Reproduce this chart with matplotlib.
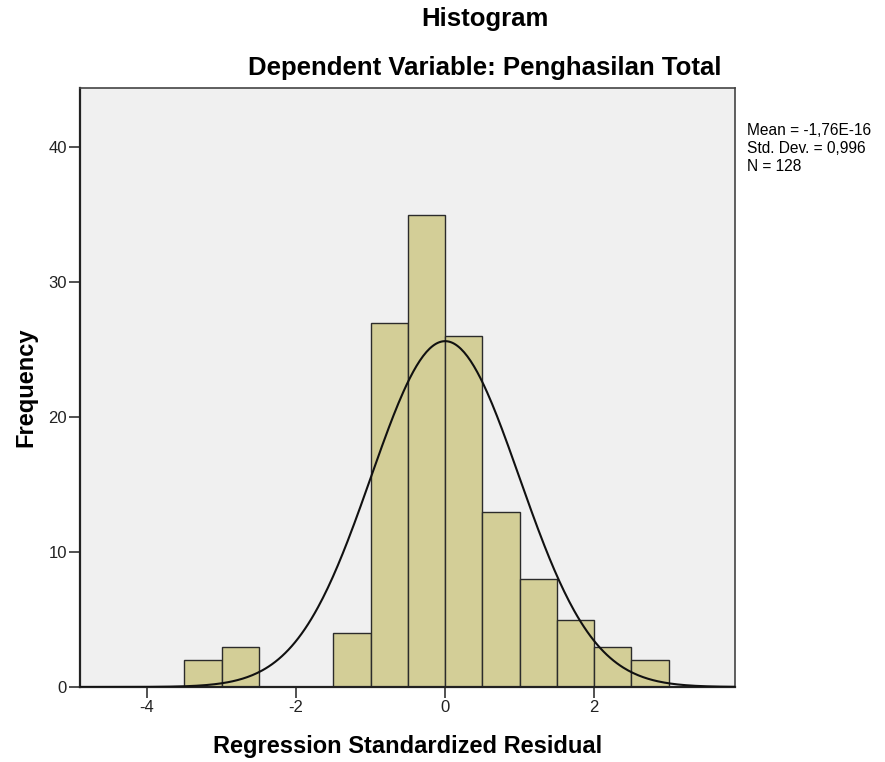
import numpy as np
import matplotlib.pyplot as plt

plt.rcParams['font.family'] = ['Liberation Sans', 'DejaVu Sans']
plt.rcParams['axes.unicode_minus'] = False

# histogram of regression standardized residuals
bin_edges = [-3.5, -3.0, -2.5, -2.0, -1.5, -1.0, -0.5, 0.0, 0.5, 1.0, 1.5, 2.0, 2.5, 3.0]
counts = [2, 3, 0, 0, 4, 27, 35, 26, 13, 8, 5, 3, 2]
mean = -1.76e-16
std = 0.996
n = 128

fig = plt.figure(figsize=(8.85, 7.62), dpi=100)
ax = fig.add_axes([80 / 885, 1 - 687 / 762, (735 - 80) / 885, (687 - 88) / 762])
ax.set_facecolor('#f0f0f0')

left = np.array(bin_edges[:-1])
width = np.diff(bin_edges)
ax.bar(left, counts, width=width, align='edge', color='#d3ce97',
       edgecolor='#2b2b2b', linewidth=1.0, zorder=2)

xmin, xmax = -4.9, 3.89
xs = np.linspace(xmin, xmax, 400)
ys = n * 0.5 * np.exp(-0.5 * ((xs - mean) / std) ** 2) / (std * np.sqrt(2 * np.pi))
ax.plot(xs, ys, color='#111111', linewidth=1.5, zorder=3)

ax.set_xlim(xmin, xmax)
ax.set_ylim(0, 44.4)
ax.set_xticks([-4, -2, 0, 2])
ax.set_yticks([0, 10, 20, 30, 40])
ax.tick_params(direction='out', length=8, width=1.2, pad=1.5, color='#333333',
               labelsize=12, labelcolor='#222222')
for side in ['left', 'bottom']:
    ax.spines[side].set_color('#222222')
    ax.spines[side].set_linewidth(1.6)
for side in ['top', 'right']:
    ax.spines[side].set_color('#444444')
    ax.spines[side].set_linewidth(1.2)

ax.set_xlabel('Regression Standardized Residual', fontsize=17, fontweight='bold', labelpad=14)
ax.set_ylabel('Frequency', fontsize=17, fontweight='bold', labelpad=8)

fig.text(485 / 885, 1 - 19 / 762, 'Histogram', ha='center', va='center',
         fontsize=18.5, fontweight='bold')
fig.text(485 / 885, 1 - 68 / 762, 'Dependent Variable: Penghasilan Total', ha='center',
         va='center', fontsize=18.5, fontweight='bold')
fig.text(747 / 885, 1 - 123 / 762,
         'Mean = -1,76E-16\nStd. Dev. = 0,996\nN = 128',
         ha='left', va='top', fontsize=11.2, linespacing=1.25)

fig.savefig('out.png', dpi=100)
